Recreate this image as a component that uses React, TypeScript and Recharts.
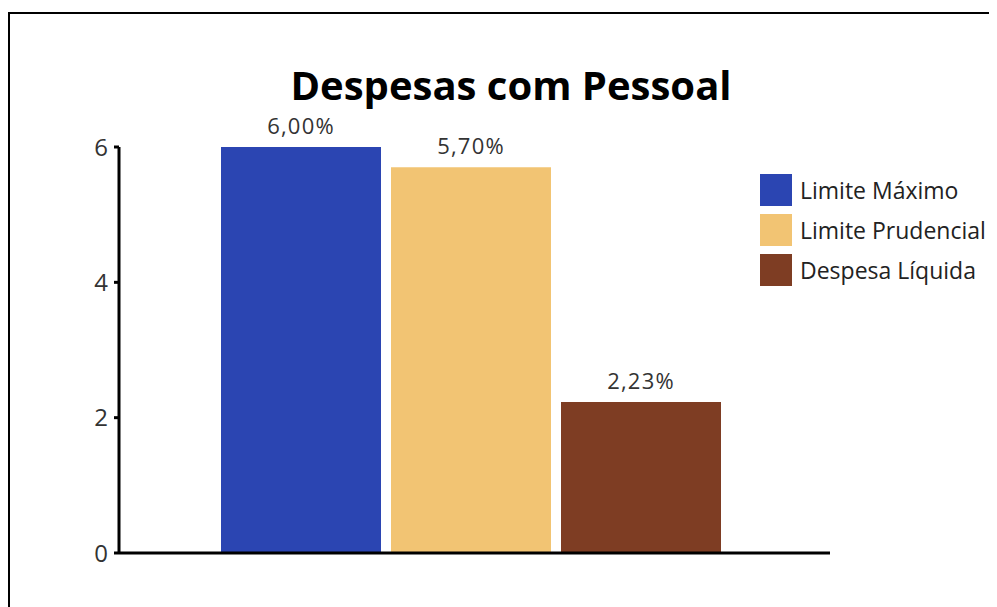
import React from 'react';
import { BarChart, Bar, XAxis, YAxis, LabelList } from 'recharts';

const categories = ['Despesas com Pessoal'];
const limiteMaximo = [6.0];
const limitePrudencial = [5.7];
const despesaLiquida = [2.23];
const yTicks = [0, 2, 4, 6];

const seriesNames = ['Limite Máximo', 'Limite Prudencial', 'Despesa Líquida'];
const seriesColors = ['#2b45b2', '#f2c473', '#7e3d23'];

const data = categories.map((c, i) => ({
  name: c,
  max: limiteMaximo[i],
  prud: limitePrudencial[i],
  liq: despesaLiquida[i],
}));

const fmt = (v: any) => `${Number(v).toFixed(2).replace('.', ',')}%`;

const FONT = '"Open Sans", "Noto Sans", sans-serif';

const LegendBox = () => (
  <div style={{ position: 'absolute', left: 750, top: 156, fontFamily: FONT }}>
    {seriesNames.map((n, i) => (
      <div key={n} style={{ display: 'flex', alignItems: 'center', height: 40 }}>
        <div style={{ width: 32, height: 32, background: seriesColors[i], marginRight: 8, flexShrink: 0 }} />
        <span style={{ fontSize: 23, color: '#222', whiteSpace: 'nowrap' }}>{n}</span>
      </div>
    ))}
  </div>
);

export default function App() {
  return (
    <div
      style={{
        position: 'relative',
        marginTop: 4,
        width: 1010,
        height: 640,
        border: '2px solid #000',
        boxSizing: 'border-box',
        fontFamily: FONT,
      }}
    >
      <div
        style={{
          position: 'absolute',
          left: 0,
          top: 44,
          width: 1002,
          textAlign: 'center',
          fontSize: 40,
          fontWeight: 700,
          lineHeight: '54px',
          color: '#000',
        }}
      >
        Despesas com Pessoal
      </div>
      <div style={{ position: 'absolute', left: 0, top: 0 }}>
        <BarChart
          width={987}
          height={580}
          data={data}
          margin={{ top: 133, right: 167, left: 69, bottom: 31 }}
          barSize={160}
          barGap={10}
        >
          <XAxis xAxisId="cat" dataKey="name" hide height={0} padding={{ left: 0, right: 8 }} />
          <XAxis
            xAxisId="edges"
            type="number"
            domain={[0, 1]}
            ticks={[0, 1]}
            tick={false}
            height={10}
            axisLine={{ stroke: '#000', strokeWidth: 3 }}
            tickLine={{ stroke: '#000', strokeWidth: 3 }}
            tickSize={5}
          />
          <YAxis
            width={40}
            domain={[0, 6]}
            ticks={yTicks}
            axisLine={{ stroke: '#000', strokeWidth: 3 }}
            tickLine={{ stroke: '#000', strokeWidth: 3 }}
            tickSize={5}
            tickMargin={6}
            tick={{ fill: '#333', fontSize: 24, fontFamily: FONT }}
          />
          <Bar xAxisId="cat" dataKey="max" name={seriesNames[0]} fill={seriesColors[0]} isAnimationActive={false}>
            <LabelList dataKey="max" position="top" offset={13} formatter={fmt} fill="#333" fontSize={22} letterSpacing={1.2} fontFamily={FONT} />
          </Bar>
          <Bar xAxisId="cat" dataKey="prud" name={seriesNames[1]} fill={seriesColors[1]} isAnimationActive={false}>
            <LabelList dataKey="prud" position="top" offset={13} formatter={fmt} fill="#333" fontSize={22} letterSpacing={1.2} fontFamily={FONT} />
          </Bar>
          <Bar xAxisId="cat" dataKey="liq" name={seriesNames[2]} fill={seriesColors[2]} isAnimationActive={false}>
            <LabelList dataKey="liq" position="top" offset={13} formatter={fmt} fill="#333" fontSize={22} letterSpacing={1.2} fontFamily={FONT} />
          </Bar>
        </BarChart>
      </div>
      <LegendBox />
    </div>
  );
}
